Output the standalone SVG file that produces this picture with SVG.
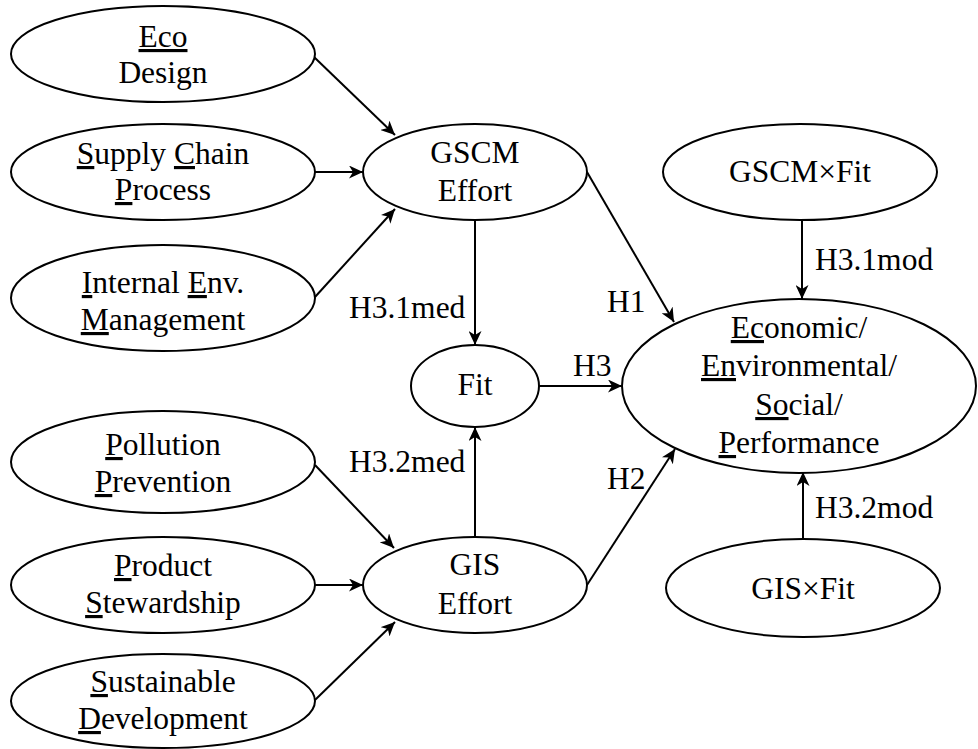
<svg xmlns="http://www.w3.org/2000/svg" width="978" height="749" viewBox="0 0 978 749">
<style>
.n{fill:#fff;stroke:#000;stroke-width:2}
.c line{stroke:#000;stroke-width:2;marker-end:url(#ah)}
text{font-family:"Liberation Serif","Times New Roman",serif;font-size:31.5px;fill:#000}
.m{text-anchor:middle}
.u{text-decoration:underline}
</style>
<defs>
<marker id="ah" markerUnits="userSpaceOnUse" markerWidth="15" markerHeight="13" refX="14" refY="6.5" orient="auto">
<path d="M0,0 L14,6.5 L0,13 L4,6.5 z" fill="#000"/>
</marker>
</defs>
<rect width="978" height="749" fill="#fff"/>
<g class="c" id="connectors">
<line x1="314" y1="57" x2="395" y2="135"/>
<line x1="315" y1="172" x2="363" y2="172"/>
<line x1="315" y1="297" x2="395" y2="209"/>
<line x1="475" y1="220" x2="475" y2="345"/>
<line x1="587" y1="172" x2="674" y2="322"/>
<line x1="539" y1="386" x2="622" y2="386"/>
<line x1="475" y1="537" x2="475" y2="427"/>
<line x1="587" y1="585" x2="675" y2="449"/>
<line x1="315" y1="465" x2="394" y2="548"/>
<line x1="315" y1="585" x2="363" y2="585"/>
<line x1="315" y1="700" x2="395" y2="622"/>
<line x1="802" y1="220" x2="802" y2="299"/>
<line x1="803" y1="539" x2="803" y2="472"/>
</g>
<g id="labels">
<text x="349" y="318">H3.1med</text>
<text x="349" y="472">H3.2med</text>
<text x="573" y="376">H3</text>
<text x="607" y="312">H1</text>
<text x="607" y="489">H2</text>
<text x="815" y="270">H3.1mod</text>
<text x="815" y="518">H3.2mod</text>
</g>
<g id="eco">
<ellipse class="n" cx="163" cy="54" rx="152" ry="48"/>
<text class="m" x="163" y="47"><tspan class="u">Eco</tspan></text>
<text class="m" x="163" y="83">Design</text>
</g>
<g id="supply">
<ellipse class="n" cx="163" cy="172" rx="152" ry="48"/>
<text class="m" x="163" y="164"><tspan class="u">S</tspan>upply <tspan class="u">C</tspan>hain</text>
<text class="m" x="163" y="200"><tspan class="u">P</tspan>rocess</text>
</g>
<g id="internal">
<ellipse class="n" cx="163" cy="298" rx="152" ry="53"/>
<text class="m" x="163" y="293"><tspan class="u">I</tspan>nternal <tspan class="u">E</tspan>nv.</text>
<text class="m" x="163" y="330"><tspan class="u">M</tspan>anagement</text>
</g>
<g id="pollution">
<ellipse class="n" cx="163" cy="462" rx="152" ry="51"/>
<text class="m" x="163" y="455"><tspan class="u">P</tspan>ollution</text>
<text class="m" x="163" y="492"><tspan class="u">P</tspan>revention</text>
</g>
<g id="product">
<ellipse class="n" cx="163" cy="585" rx="152" ry="48"/>
<text class="m" x="163" y="576"><tspan class="u">P</tspan>roduct</text>
<text class="m" x="163" y="613"><tspan class="u">S</tspan>tewardship</text>
</g>
<g id="sustainable">
<ellipse class="n" cx="163" cy="701" rx="152" ry="47"/>
<text class="m" x="163" y="692"><tspan class="u">S</tspan>ustainable</text>
<text class="m" x="163" y="729"><tspan class="u">D</tspan>evelopment</text>
</g>
<g id="gscm">
<ellipse class="n" cx="475" cy="172" rx="112" ry="48"/>
<text class="m" x="475" y="163">GSCM</text>
<text class="m" x="475" y="201">Effort</text>
</g>
<g id="fit">
<ellipse class="n" cx="475" cy="386" rx="64" ry="41"/>
<text class="m" x="475" y="395">Fit</text>
</g>
<g id="gis">
<ellipse class="n" cx="475" cy="585" rx="112" ry="48"/>
<text class="m" x="475" y="575">GIS</text>
<text class="m" x="475" y="614">Effort</text>
</g>
<g id="performance">
<ellipse class="n" cx="799" cy="386" rx="177" ry="87"/>
<text class="m" x="799" y="338"><tspan class="u">Ec</tspan>onomic/</text>
<text class="m" x="799" y="376"><tspan class="u">En</tspan>vironmental/</text>
<text class="m" x="799" y="415"><tspan class="u">So</tspan>cial/</text>
<text class="m" x="799" y="453"><tspan class="u">P</tspan>erformance</text>
</g>
<g id="gscmfit">
<ellipse class="n" cx="800" cy="172" rx="137" ry="48"/>
<text class="m" x="800" y="182">GSCM×Fit</text>
</g>
<g id="gisfit">
<ellipse class="n" cx="803" cy="588" rx="137" ry="49"/>
<text class="m" x="803" y="599">GIS×Fit</text>
</g>
</svg>
